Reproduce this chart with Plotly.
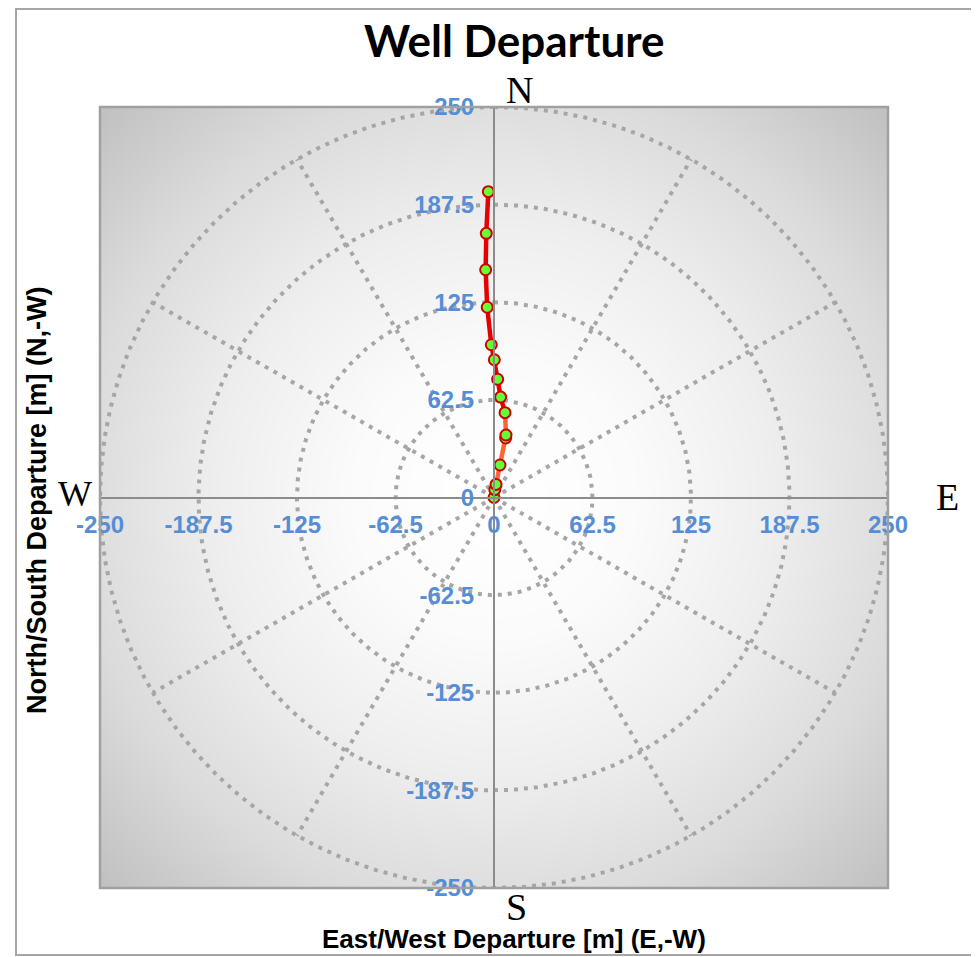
import numpy as np
import plotly.graph_objects as go

# ---- data ----
east = [0.0, 0.5, 1.3, 3.8, 7.4, 7.6, 7.0, 4.2, 2.3, 0.2, -1.7, -4.3, -5.3, -4.9, -3.6]
north = [0.0, 5.0, 8.4, 20.8, 38.1, 40.0, 54.3, 64.3, 75.7, 88.2, 97.8, 121.8, 145.8, 169.1, 195.8]
split_index = 6  # lower (orange) part up to this point, upper (red) part from here

tick_vals = [-250, -187.5, -125, -62.5, 0, 62.5, 125, 187.5, 250]
tick_text = ["-250", "-187.5", "-125", "-62.5", "0", "62.5", "125", "187.5", "250"]
ring_radii = [62.5, 125, 187.5, 250]
spoke_angles = [30, 60, 120, 150, 210, 240, 300, 330]

OFF = 8  # page body margin
W, H = 979 - OFF, 957 - OFF
L, R, T, B = 100 - OFF, 888 - OFF, 107 - OFF, 888 - OFF  # plot area in figure pixels


def px(x):
    x = x - OFF
    return (x - L) / (R - L)


def py(y):
    y = y - OFF
    return (B - y) / (B - T)


fig = go.Figure()

# radial gradient background
g = np.linspace(-250, 250, 121)
gx, gy = np.meshgrid(g, g)
gz = np.sqrt(gx ** 2 + gy ** 2) / (250 * np.sqrt(2))
fig.add_trace(go.Heatmap(
    x=g, y=g, z=gz, zmin=0, zmax=1, zsmooth="best", showscale=False,
    hoverinfo="skip",
    colorscale=[[0, "#ffffff"], [0.25, "#fbfbfb"], [0.5, "#eeeeee"],
                [0.75, "#dbdbdb"], [1, "#c0c0c0"]],
))

grid_line = dict(color="#a6a6a6", width=4, dash="4px,6px")
t = np.linspace(0, 2 * np.pi, 721)
for r in ring_radii:
    fig.add_trace(go.Scatter(x=r * np.sin(t), y=r * np.cos(t), mode="lines",
                             line=grid_line, hoverinfo="skip", showlegend=False))
for a in spoke_angles:
    th = np.deg2rad(a)
    fig.add_trace(go.Scatter(x=[0, 250 * np.sin(th)], y=[0, 250 * np.cos(th)],
                             mode="lines", line=grid_line, hoverinfo="skip",
                             showlegend=False))

# well path
fig.add_trace(go.Scatter(x=east[:split_index + 1], y=north[:split_index + 1],
                         mode="lines", line=dict(color="#ff6633", width=4.5),
                         hoverinfo="skip", showlegend=False))
fig.add_trace(go.Scatter(x=east[split_index:], y=north[split_index:],
                         mode="lines", line=dict(color="#e60000", width=4.5),
                         hoverinfo="skip", showlegend=False))
fig.add_trace(go.Scatter(x=east, y=north, mode="markers",
                         marker=dict(size=11, color="#66ff33",
                                     line=dict(color="#cc0000", width=2)),
                         showlegend=False))

tick_font = dict(family="Arial, Liberation Sans", size=24, color="#558ed5", weight="bold")
axis_common = dict(range=[-250, 250], tickmode="array", tickvals=tick_vals, ticktext=tick_text,
                   showgrid=False, zeroline=False, showline=True, linecolor="#8c8c8c",
                   linewidth=2, ticks="outside", tickcolor="rgba(0,0,0,0)",
                   tickfont=tick_font, anchor="free", position=0.5, automargin=False,
                   fixedrange=True)

fig.update_layout(
    width=W, height=H,
    margin=dict(l=L, r=W - R, t=T, b=H - B),
    paper_bgcolor="white", plot_bgcolor="white",
    xaxis=dict(ticklen=6, **axis_common),
    yaxis=dict(ticklen=14, **axis_common),
    showlegend=False,
)

shapes = [
    # plot frame
    dict(type="rect", xref="paper", yref="paper", x0=0, x1=1, y0=0, y1=1,
         line=dict(color="#a0a0a0", width=2.5), layer="above"),
    # figure border
    dict(type="rect", xref="paper", yref="paper", x0=px(16), x1=px(974), y0=py(955), y1=py(9),
         line=dict(color="#a6a6a6", width=2)),
]
fig.update_layout(shapes=shapes)

ann = [
    dict(text="<b>Well Departure</b>", x=px(514), y=py(40),
         font=dict(family="Lato, Open Sans", size=44, color="black")),
    dict(text="<b>East/West Departure [m] (E,-W)</b>", x=px(514), y=py(939),
         font=dict(family="Arial, Liberation Sans", size=26, color="black")),
    dict(text="<b>North/South Departure [m] (N,-W)</b>", x=px(37), y=py(501), textangle=-90,
         font=dict(family="Arial, Liberation Sans", size=27, color="black")),
    dict(text="N", x=px(519), y=py(90), font=dict(family="Liberation Serif", size=38, color="black")),
    dict(text="S", x=px(516), y=py(907), font=dict(family="Liberation Serif", size=38, color="black")),
    dict(text="E", x=px(948), y=py(497), font=dict(family="Liberation Serif", size=38, color="black")),
    dict(text="W", x=px(75), y=py(494), font=dict(family="Liberation Serif", size=36, color="black")),
]
for a in ann:
    a.update(xref="paper", yref="paper", showarrow=False, xanchor="center", yanchor="middle")
fig.update_layout(annotations=ann)

fig.write_html("out.html")
